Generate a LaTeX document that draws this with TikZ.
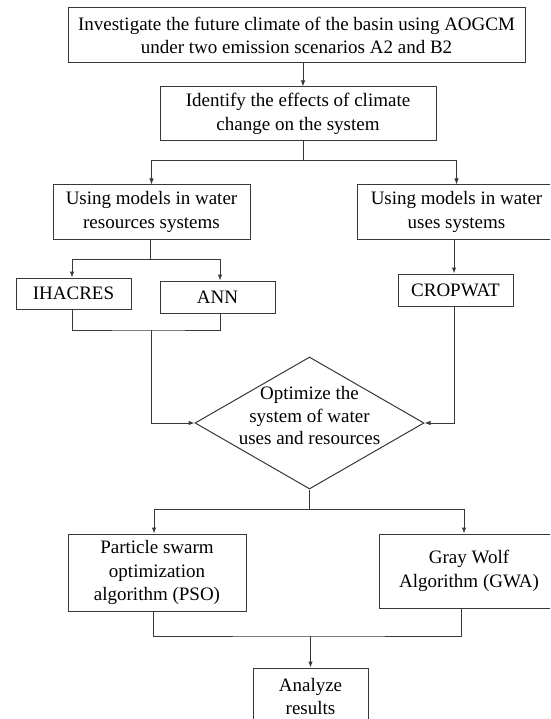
\documentclass[tikz,border=0pt]{standalone}
\usepackage{fontspec}
\setmainfont{Liberation Serif}
\usetikzlibrary{arrows.meta,shapes.geometric,calc}
\begin{document}
\begin{tikzpicture}[x=1pt,y=-1pt,
  line/.style={draw=black!78,line width=1pt},
  arr/.style={line,-{Latex[length=6pt,width=4.5pt]}},
  box/.style={draw=black!78,line width=1pt,rectangle,inner sep=0pt,align=center,
     font=\fontsize{19}{23.5}\selectfont,text=black},
  lbl/.style={inner sep=0pt,align=center,font=\fontsize{19}{22.5}\selectfont,text=black}]
\useasboundingbox (0,0) rectangle (550,719);
\clip (0,0) rectangle (550,719);
\fill[white] (0,0) rectangle (550,719);
\node[box,minimum width=457pt,minimum height=55pt] (b1) at (296.5,35.5)
  {Investigate the future climate of the basin using AOGCM\\under two emission scenarios A2 and B2};
\node[box,minimum width=276pt,minimum height=54pt] (b2) at (298,114)
  {Identify the effects of climate\\change on the system};
\node[box,minimum width=197pt,minimum height=54pt] (b3) at (151.5,212)
  {Using models in water\\resources systems};
\node[box,minimum width=199pt,minimum height=54pt] (b4) at (456.5,212)
  {Using models in water\\uses systems};
\node[box,minimum width=115pt,minimum height=31pt] (ih) at (73.5,293.5) {IHACRES};
\node[box,minimum width=115pt,minimum height=32pt] (ann) at (217.5,297) {ANN};
\node[box,minimum width=115pt,minimum height=32pt] (crop) at (455.5,290) {CROPWAT};
\node[draw=black!78,line width=1pt,diamond,inner sep=0pt,minimum width=229pt,minimum height=132pt] (dia) at (309.5,423) {};
\node[lbl] (diat) at (309.5,415.5) {Optimize the\\system of water\\uses and resources};
\node[box,minimum width=178pt,minimum height=77pt] (pso) at (157,572.5)
  {Particle swarm\\optimization\\algorithm (PSO)};
\node[box,minimum width=180pt,minimum height=74pt] (gwa) at (469,571)
  {Gray Wolf\\Algorithm (GWA)};
\node[box,minimum width=115pt,minimum height=58pt] (an) at (310.5,697) {};
\node[lbl] (ant) at (310.5,696.5) {Analyze\\results};
\coordinate (x303) at (303,0);
\coordinate (x454) at (454,0);
\coordinate (j1) at (303,161);
\coordinate (j2) at (150,259);
\coordinate (j3) at (151,330);
\coordinate (j4) at (309.5,509);
\coordinate (j5) at (310.5,636);
\draw[arr] (b1.south -| x303) -- (b2.north -| x303);
\draw[line] (b2.south -| x303) -- (j1);
\draw[arr] (j1) -| (b3.north);
\draw[arr] (j1) -| (b4.north);
\draw[line] (b3.south -| j2) -- (j2);
\draw[arr] (j2) -| ([xshift=-1.5]ih.north);
\draw[arr] (j2) -| ([xshift=2.5]ann.north);
\draw[line] ([xshift=-1.5]ih.south) |- (j3) -| ([xshift=2.5]ann.south);
\draw[arr] (j3) |- (dia.west);
\draw[arr] (b4.south -| x454) -- (crop.north -| x454);
\draw[arr] (crop.south -| x454) |- (dia.east);
\draw[line] (dia.south) -- (j4);
\draw[arr] (j4) -| ([xshift=-3]pso.north);
\draw[arr] (j4) -| ([xshift=-5]gwa.north);
\draw[line] ([xshift=-4]pso.south) |- (j5) -| ([xshift=-8]gwa.south);
\draw[arr] (j5) -- (an.north);
\end{tikzpicture}
\end{document}
